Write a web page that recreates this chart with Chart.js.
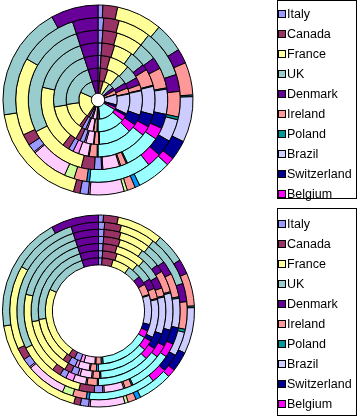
<!DOCTYPE html>
<html>
<head>
<meta charset="utf-8">
<script src="https://cdn.jsdelivr.net/npm/chart.js@4.4.1/dist/chart.umd.min.js"></script>
<style>
  html, body { margin: 0; padding: 0; background: #fff; width: 357px; height: 416px; overflow: hidden; }
  canvas { position: absolute; left: 0; }
  #c1 { top: 0; }
  #c2 { top: 205px; }
</style>
</head>
<body>
<canvas id="c1" width="357" height="205"></canvas>
<canvas id="c2" width="357" height="211"></canvas>
<script>
// Categories (only the first ten are listed in the legend box)
const categories = ['Italy','Canada','France','UK','Denmark','Ireland','Poland','Brazil','Switzerland','Belgium',
  'Item 11','Item 12','Item 13','Item 14','Item 15','Item 16','Item 17','Item 18','Item 19','Item 20','Item 21'];
const legendCount = 10;

// Series values, ring 1 = innermost ... ring 7 = outermost
const ring1 = [4,12,19,15,10,12,1,32,7,8,55,2,6,1,12,4,7,7,80,48,18];
const ring2 = [4,14,22,18,10,10,1,37,4,10,50,2,6,1,11,3,7,6,46,80,18];
const ring3 = [4,12,26,18,10,7,1,32,14,11,43,1,6,1,10,2,6,6,51,81,18];
const ring4 = [4,13,19,16,6,17,1,29,13,10,52,1,8,1,10,6,5,7,65,59,18];
const ring5 = [4,12,22,15,10,17,1,21,12,10,31,1,5,1,14,1,6,11,49,99,18];
const ring6 = [4,11,23,34,12,18,2,16,12,10,44,2,9,7,26,1,6,8,55,42,18];
const ring7 = [3,9,28,18,9,20,1,28,12,5,21,3,5,2,21,1,5,4,66,70,29];

const palette = ['#9999FF','#993366','#FFFF99','#99CCCC','#660099','#FF9999','#009999','#CCCCFF','#000099','#FF00FF',
  '#99FFFF','#0099FF','#FF9999','#CCFF99','#FFCCFF','#FF99FF'];
const colors = categories.map((c, i) => palette[i % palette.length]);

const rings = [ring1, ring2, ring3, ring4, ring5, ring6, ring7];

function makeDatasets() {
  // Chart.js draws the first dataset outermost, so reverse (ring 1 innermost)
  return rings.slice().reverse().map((r, i) => ({
    label: 'Ring ' + (rings.length - i),
    data: r,
    backgroundColor: colors,
    borderColor: '#000000',
    borderWidth: 1
  }));
}

const legendBox = {
  id: 'legendBox',
  afterDraw(chart, args, opts) {
    const ctx = chart.ctx;
    ctx.save();
    ctx.strokeStyle = '#000';
    ctx.lineWidth = 1;
    ctx.strokeRect(opts.x + 0.5, opts.y + 0.5, opts.w, opts.h);
    ctx.font = '12.5px "Liberation Sans", Arial, sans-serif';
    ctx.textBaseline = 'middle';
    for (let i = 0; i < legendCount; i++) {
      const cy = opts.first + i * 20;
      ctx.fillStyle = colors[i];
      ctx.fillRect(279, cy - 3, 6, 6);
      ctx.strokeStyle = '#000';
      ctx.strokeRect(278.5, cy - 3.5, 7, 7);
      ctx.fillStyle = '#000';
      ctx.fillText(categories[i], 287, cy + 0.5);
    }
    ctx.restore();
  }
};

function makeChart(id, cutout, radius, pad, legendOpts) {
  return new Chart(document.getElementById(id), {
    type: 'doughnut',
    data: { labels: categories, datasets: makeDatasets() },
    options: {
      responsive: false,
      animation: false,
      devicePixelRatio: 1,
      cutout: cutout,
      radius: radius,
      layout: { padding: pad },
      plugins: { legend: { display: false }, tooltip: { enabled: false }, legendBox: legendOpts }
    },
    plugins: [legendBox]
  });
}

makeChart('c1', '7%', 95, { left: 3, top: 5, right: 164, bottom: 10 },
  { x: 277, y: 0, w: 79, h: 198, first: 14 });
makeChart('c2', '48%', 96, { left: 2.5, top: 10, right: 162.5, bottom: 9 },
  { x: 277, y: 3, w: 79, h: 207, first: 19 });
</script>
</body>
</html>
